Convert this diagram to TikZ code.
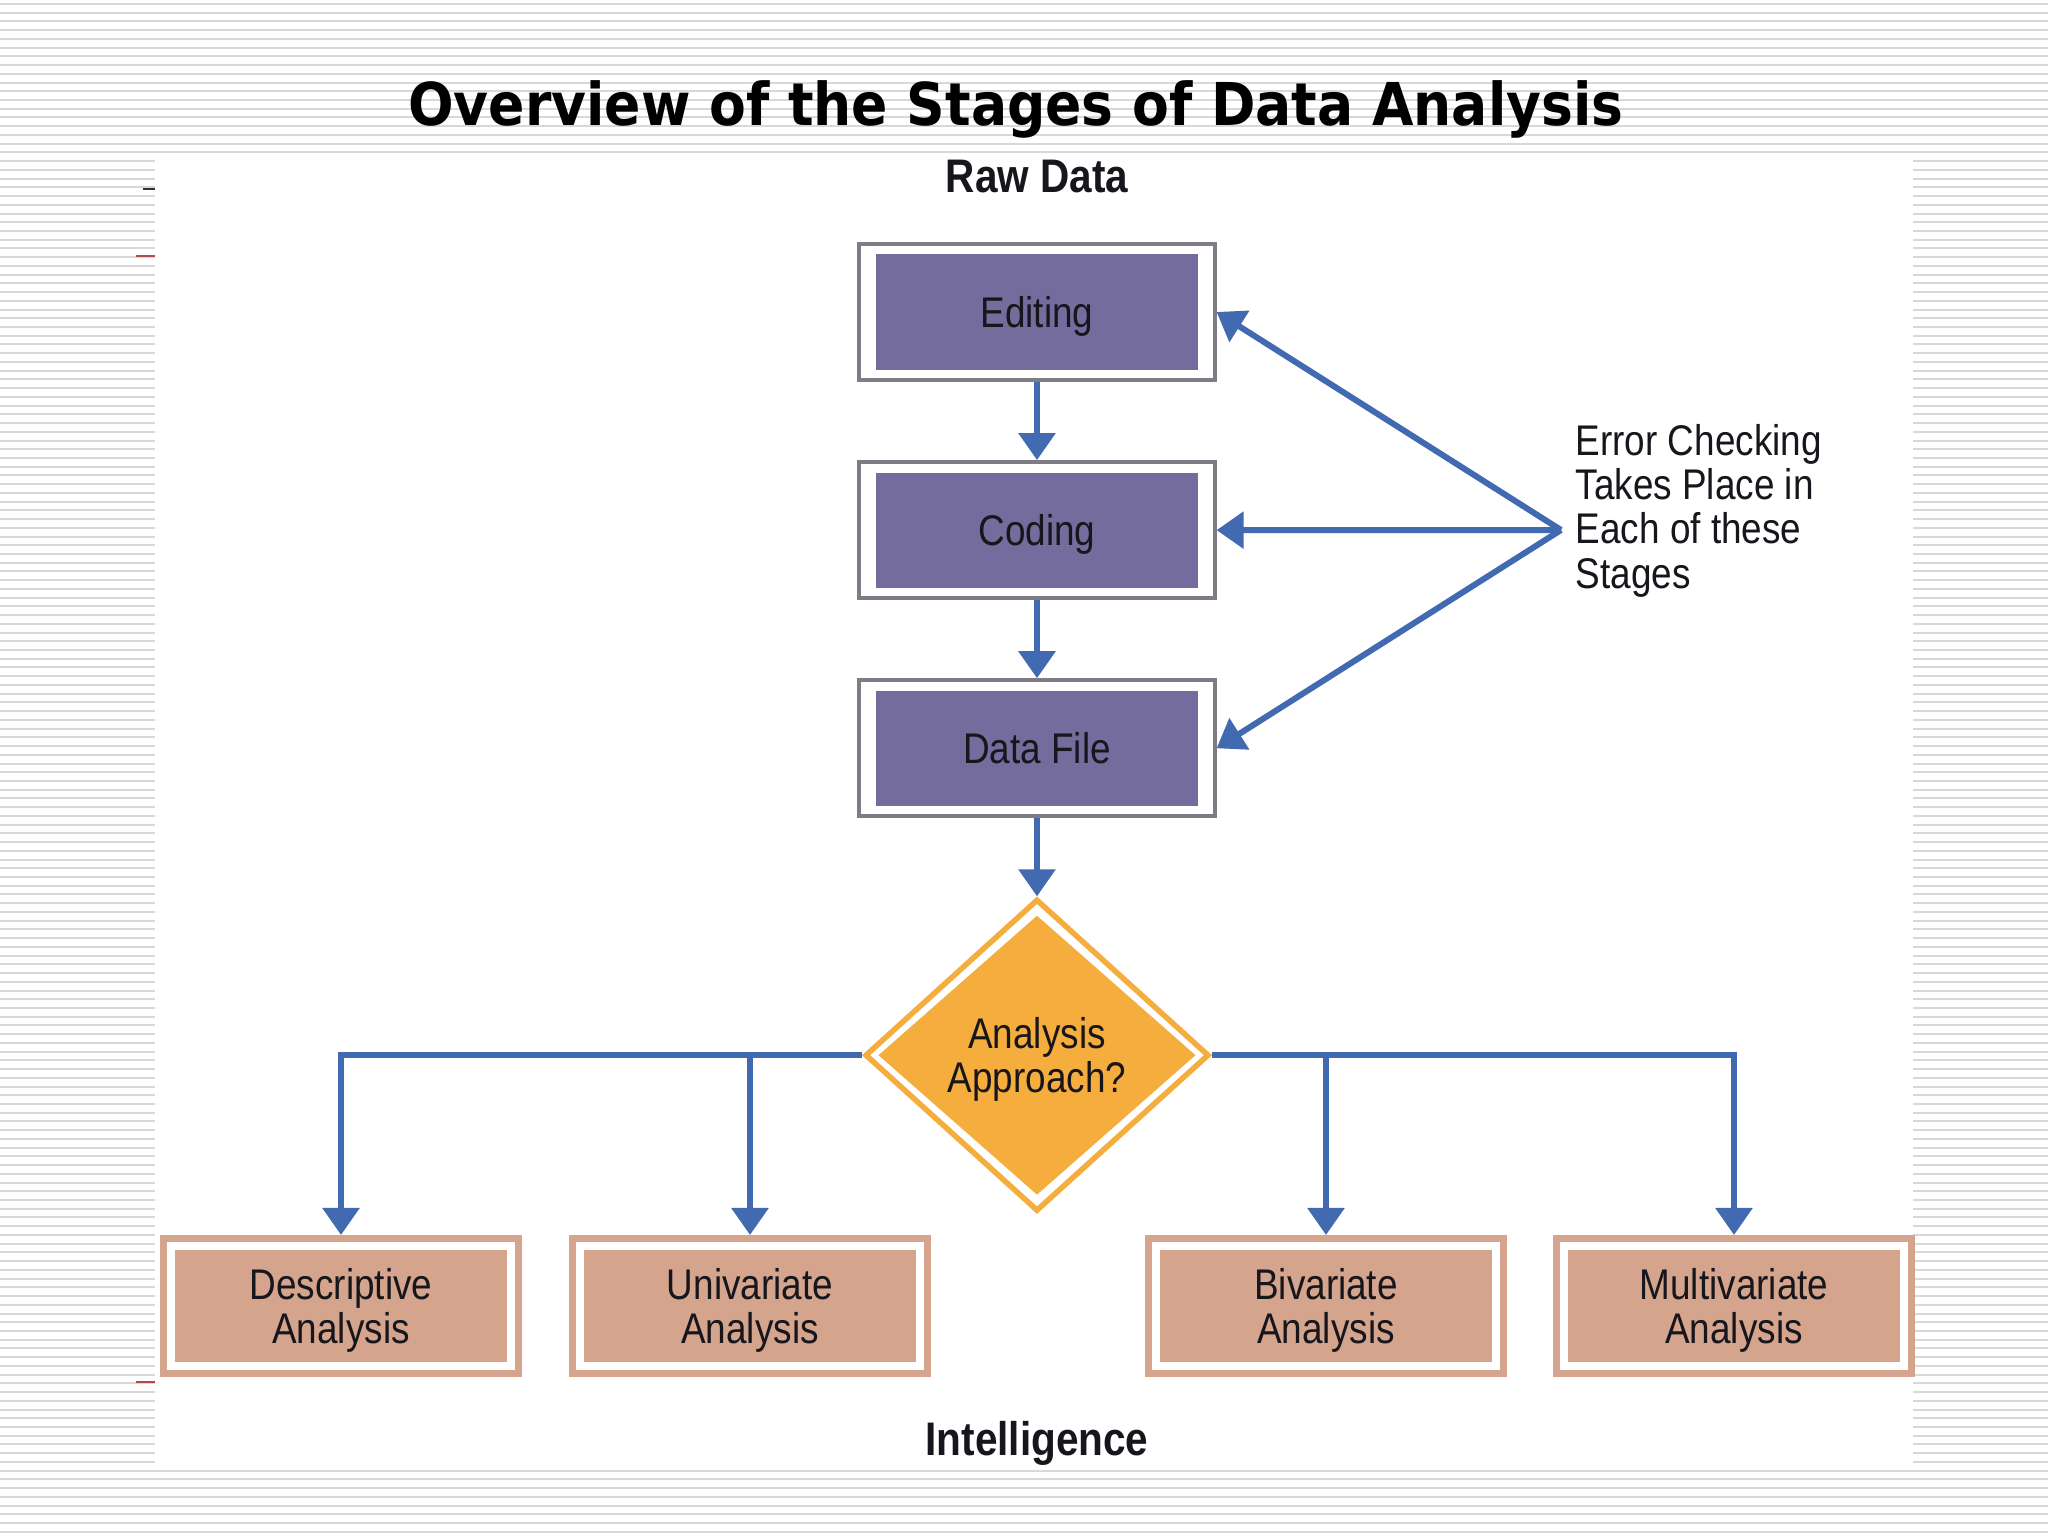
\documentclass[tikz,border=0pt]{standalone}
\usepackage{fontspec}
\setmainfont{Liberation Sans}[FakeStretch=0.86]
\newfontfamily\titlefont{DejaVu Sans}[FakeStretch=0.907]
\usetikzlibrary{shapes.geometric}
\usetikzlibrary{arrows.meta}
\usetikzlibrary{positioning}

\definecolor{stagefill}{RGB}{115,108,156}
\definecolor{stageedge}{RGB}{128,124,134}
\definecolor{flowblue}{RGB}{66,106,176}
\definecolor{askorange}{RGB}{245,173,61}
\definecolor{endfill}{RGB}{212,164,141}
\definecolor{stripe}{RGB}{216,216,216}
\definecolor{ink}{RGB}{22,22,28}

\begin{document}
\begin{tikzpicture}[x=0.01cm, y=-0.01cm,
    body/.style={font=\fontsize{12.2}{12.6}\selectfont, text=ink, align=center, text depth=0pt},
    stage/.style={body, draw=stageedge, line width=0.04cm, fill=white,
        minimum width=3.55cm, minimum height=1.36cm, inner sep=0pt,
        path picture={\fill[stagefill]
            ([shift={(0.165cm,-0.105cm)}]path picture bounding box.north west) rectangle
            ([shift={(-0.165cm,0.105cm)}]path picture bounding box.south east);}},
    method/.style={body, draw=endfill, line width=0.07cm, fill=white,
        minimum width=3.55cm, minimum height=1.35cm, inner sep=0pt,
        path picture={\fill[endfill]
            ([shift={(0.115cm,-0.115cm)}]path picture bounding box.north west) rectangle
            ([shift={(-0.115cm,0.115cm)}]path picture bounding box.south east);}},
    ask/.style={body, diamond, draw=askorange, line width=0.055cm, fill=white,
        minimum width=3.44cm, minimum height=3.12cm, inner sep=0pt,
        path picture={\fill[askorange]
            ([yshift=-0.155cm]path picture bounding box.north) --
            ([xshift=-0.125cm]path picture bounding box.east) --
            ([yshift=0.155cm]path picture bounding box.south) --
            ([xshift=0.125cm]path picture bounding box.west) -- cycle;}},
    heading/.style={font=\bfseries\fontsize{13.4}{14}\selectfont, text=ink, inner sep=0pt, anchor=base},
    flow/.style={draw=flowblue, line width=0.06cm, -{Triangle[width=0.36cm,length=0.27cm]}}]

    \useasboundingbox (0,0) rectangle (2048,1536);

    % Striped slide background
    \foreach \s in {0,...,175}
        \draw[stripe, line width=0.02cm] (0,{4+8.73*\s}) -- (2048,{4+8.73*\s});
    \fill[white] (155,153) rectangle (1913,1467);

    % Small marks on the left edge
    \draw[black!80, line width=0.025cm] (143,189) -- (155,189);
    \draw[red!55!black!70, line width=0.02cm] (136,256) -- (155,256);
    \draw[red!55!black!70, line width=0.02cm] (136,1382) -- (155,1382);

    % Title
    \node[font=\titlefont\bfseries\fontsize{16.8}{20}\selectfont, anchor=base, inner sep=0pt] (title)
        at (1016,125) {Overview of the Stages of Data Analysis};

    % Top and bottom labels
    \node[heading] (raw) at (1037,192) {Raw Data};
    \node[heading] (intel) at (1037,1455) {Intelligence};

    % Stages
    \node[stage] (edit) at (1037,312) {Editing};
    \node[stage, below=0.78cm of edit] (code) {Coding};
    \node[stage, below=0.78cm of code] (file) {Data File};

    % Decision
    \node[ask, below=0.78cm of file] (approach) {Analysis\\Approach?};

    % Kinds of analysis
    \node[method] (desc) at (341,1306) {Descriptive\\Analysis};
    \node[method] (uni) at (750,1306) {Univariate\\Analysis};
    \node[method] (bi) at (1326,1306) {Bivariate\\Analysis};
    \node[method] (multi) at (1734,1306) {Multivariate\\Analysis};

    % Error checking note
    \node[body, align=left, anchor=west, inner sep=0pt] (check) at (1575,506)
        {Error Checking\\Takes Place in\\Each of these\\Stages};
    \coordinate (hub) at (1561,530);

    % Connectors
    \draw[flow] (edit) -- (code);
    \draw[flow] (code) -- (file);
    \draw[flow] (file) -- (approach);
    \draw[flow] (hub) -- (edit.east);
    \draw[flow] (hub) -- (code.east);
    \draw[flow] (hub) -- (file.east);
    \draw[flow] (approach.west) -| (desc);
    \draw[flow] (approach.west) -| (uni);
    \draw[flow] (approach.east) -| (bi);
    \draw[flow] (approach.east) -| (multi);

\end{tikzpicture}
\end{document}
